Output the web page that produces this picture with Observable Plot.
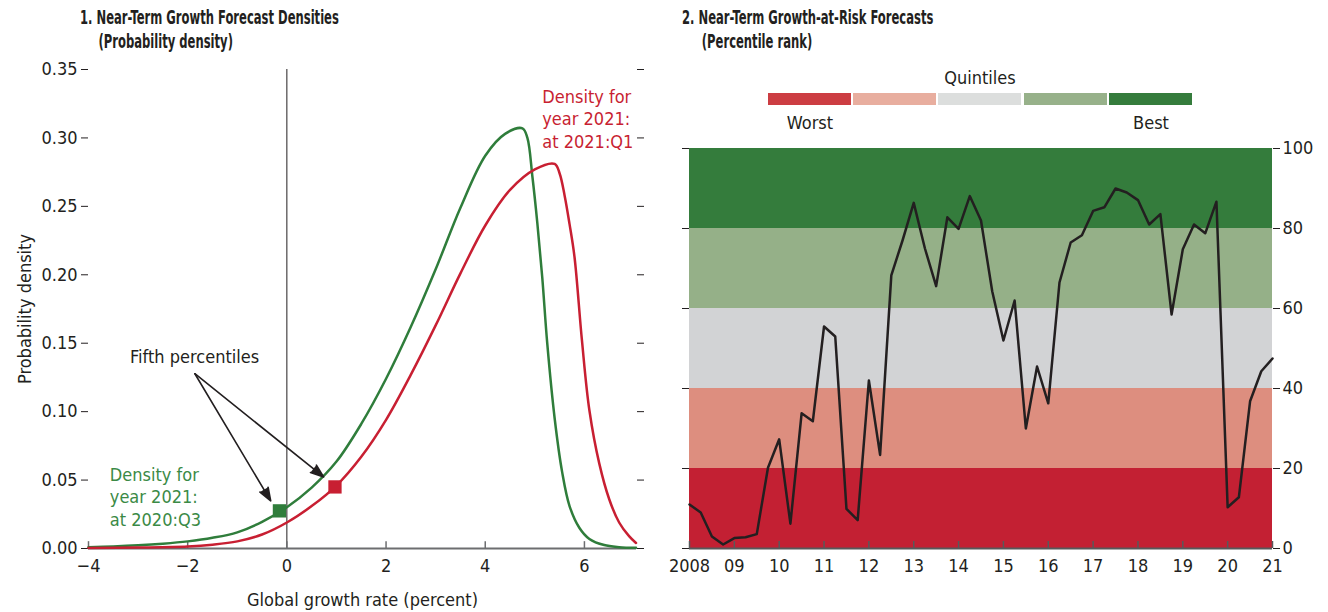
<!DOCTYPE html>
<html>
<head>
<meta charset="utf-8">
<script src="https://cdn.jsdelivr.net/npm/d3@7"></script>
<script src="https://cdn.jsdelivr.net/npm/@observablehq/plot@0.6"></script>
<style>
  body { margin: 0; background: #fff; width: 1328px; height: 612px; position: relative; overflow: hidden;
         font-family: "Liberation Sans Narrow", "DejaVu Sans Condensed", "Arial Narrow", sans-serif; color: #231f20; }
  .abs { position: absolute; white-space: nowrap; }
  .title { font-weight: bold; font-size: 19.5px; line-height: 24px; transform: scaleX(0.66); transform-origin: 0 0; }
  .lg { font-size: 18px; }
  .sw { position: absolute; top: 93px; height: 12px; width: 83px; }
</style>
</head>
<body>
<div class="abs title" style="left:80px; top:6px;">1. Near-Term Growth Forecast Densities<br><span style="padding-left:28px">(Probability density)</span></div>
<div class="abs title" style="left:682px; top:6px;">2. Near-Term Growth-at-Risk Forecasts<br><span style="padding-left:30px">(Percentile rank)</span></div>
<div id="left" class="abs" style="left:0; top:55px;"></div>
<div id="right" class="abs" style="left:660px; top:135px;"></div>
<div id="legend"></div>
<script>
// ---------- Panel 1 data ----------
const greenX = [-4, -3.5, -3, -2.5, -2, -1.5, -1, -0.5, 0, 0.5, 1, 1.5, 2, 2.5, 3, 3.5, 4, 4.4, 4.75, 4.85, 4.95, 5.05, 5.15, 5.25, 5.4, 5.55, 5.7, 5.9, 6.1, 6.4, 6.7, 7.04];
const greenY = [0.001, 0.0015, 0.0023, 0.0035, 0.0052, 0.0078, 0.0118, 0.0195, 0.0302, 0.0445, 0.0635, 0.091, 0.124, 0.162, 0.204, 0.249, 0.287, 0.303, 0.307, 0.300, 0.272, 0.238, 0.198, 0.150, 0.095, 0.056, 0.031, 0.015, 0.007, 0.0025, 0.001, 0.0005];
const redX = [-4, -3, -2, -1.5, -1, -0.5, 0, 0.5, 1, 1.5, 2, 2.5, 3, 3.5, 4, 4.5, 5, 5.4, 5.5, 5.6, 5.7, 5.8, 5.95, 6.1, 6.3, 6.5, 6.7, 6.9, 7.04];
const redY = [0.0003, 0.0007, 0.0015, 0.0028, 0.0052, 0.0102, 0.019, 0.031, 0.046, 0.067, 0.094, 0.127, 0.163, 0.201, 0.236, 0.262, 0.277, 0.281, 0.274, 0.258, 0.237, 0.213, 0.152, 0.101, 0.062, 0.036, 0.019, 0.009, 0.004];
const fifthX = [-0.15, 0.97];
const fifthY = [0.0275, 0.045];
const fifthSeries = ["2020:Q3", "2021:Q1"];
const densityXTicks = [-4, -2, 0, 2, 4, 6];
const densityYTicks = [0, 0.05, 0.10, 0.15, 0.20, 0.25, 0.30, 0.35];
const arrowFrom = [[-1.855, 0.1277], [-1.855, 0.1277]];
const arrowTo = [[-0.326, 0.0348], [0.741, 0.0523]];

// ---------- Panel 2 data ----------
const garRank = [11, 9, 3, 1, 2.6, 2.8, 3.6, 20.2, 27.3, 6.2, 33.8, 31.8, 55.5, 53, 9.9, 7.1, 42, 23.4, 68.3, 77,
  86.4, 75, 65.6, 82.8, 79.9, 88.1, 82, 64.3, 52, 62, 30, 45.5, 36.3, 66.5, 76.5, 78.3, 84.4, 85.3, 90, 89,
  87.1, 81, 83.6, 58.5, 74.8, 81, 78.8, 86.7, 10.3, 12.8, 36.8, 44.3, 47.5];
const startYear = 2008;
const yearTicks = [2008, 2009, 2010, 2011, 2012, 2013, 2014, 2015, 2016, 2017, 2018, 2019, 2020, 2021];
const yearLabels = ["2008", "09", "10", "11", "12", "13", "14", "15", "16", "17", "18", "19", "20", "21"];
const pctTicks = [0, 20, 40, 60, 80, 100];
const quintileLo = [0, 20, 40, 60, 80];
const quintileHi = [20, 40, 60, 80, 100];
const quintileFill = ["#c32033", "#dd8e7f", "#d2d3d5", "#95b088", "#347c3c"];
const legendFill = ["#cc3d42", "#e8ae9f", "#dcdedd", "#97b18a", "#357c3c"];

const GREEN = "#2f7d3b", RED = "#c81f32";
const FONT = '"Liberation Sans Narrow", "DejaVu Sans Condensed", "Arial Narrow", sans-serif';

const greenData = greenX.map((x, i) => ({x, y: greenY[i]}));
const redData = redX.map((x, i) => ({x, y: redY[i]}));
const fifthData = fifthX.map((x, i) => ({x, y: fifthY[i], s: fifthSeries[i]}));
const arrows = arrowFrom.map((f, i) => ({x1: f[0], y1: f[1], x2: arrowTo[i][0], y2: arrowTo[i][1]}));

const left = Plot.plot({
  width: 660, height: 557,
  marginLeft: 88, marginRight: 24, marginTop: 14, marginBottom: 64,
  style: {fontFamily: FONT, fontSize: "18px", color: "#231f20", background: "transparent"},
  x: {domain: [-4, 7.05]},
  y: {domain: [0, 0.35]},
  marks: [
    Plot.ruleX([0], {stroke: "#231f20", strokeWidth: 1}),
    Plot.ruleY([0], {stroke: "#6d6e70", strokeWidth: 2}),
    Plot.ruleX(densityXTicks, {x: d => d, y1: 0, y2: 0.005, stroke: "#6d6e70", strokeWidth: 1.5}),
    Plot.axisY(densityYTicks, {anchor: "left", tickSize: 7, tickPadding: 4, tickFormat: d3.format(".2f"),
      label: "Probability density", labelAnchor: "center", labelOffset: 70, labelArrow: "none"}),
    Plot.axisY(densityYTicks, {anchor: "right", tickSize: 7, tickFormat: () => "", label: null}),
    Plot.axisX(densityXTicks, {anchor: "bottom", tickSize: 0, tickPadding: 11,
      label: "Global growth rate (percent)", labelAnchor: "center", labelOffset: 57, labelArrow: "none"}),
    Plot.line(greenData, {x: "x", y: "y", stroke: GREEN, strokeWidth: 2.5, curve: "catmull-rom"}),
    Plot.line(redData, {x: "x", y: "y", stroke: RED, strokeWidth: 2.5, curve: "catmull-rom"}),
    Plot.arrow(arrows, {x1: "x1", y1: "y1", x2: "x2", y2: "y2", stroke: "#231f20", fill: "#231f20",
      strokeWidth: 1.6, headLength: 13, headAngle: 40}),
    Plot.dot(fifthData, {x: "x", y: "y", symbol: "square", r: 7.5, fill: (d) => d.s === "2020:Q3" ? GREEN : RED, stroke: "none"}),
    Plot.text(["Fifth percentiles"], {x: -1.86, y: 0.1396, text: d => d, fill: "#231f20", fontSize: 18}),
    Plot.text(["Density for\nyear 2021:\nat 2020:Q3"], {x: -3.57, y: 0.0383, text: d => d, textAnchor: "start",
      lineHeight: 1.27, fill: "#3b8a46", fontSize: 18}),
    Plot.text(["Density for\nyear 2021:\nat 2021:Q1"], {x: 5.15, y: 0.3145, text: d => d, textAnchor: "start",
      lineHeight: 1.27, fill: RED, fontSize: 18})
  ]
});
document.getElementById("left").appendChild(left);

const garData = garRank.map((v, i) => ({t: startYear + i / 4, v}));
const bands = quintileLo.map((lo, i) => ({lo, hi: quintileHi[i], fill: quintileFill[i]}));

const right = Plot.plot({
  width: 668, height: 477,
  marginLeft: 29, marginRight: 56, marginTop: 13, marginBottom: 64,
  style: {fontFamily: FONT, fontSize: "18px", color: "#231f20", background: "transparent"},
  x: {domain: [2008, 2021]},
  y: {domain: [0, 100]},
  marks: [
    Plot.rect(bands, {y1: "lo", y2: "hi", fill: "fill"}),
    Plot.ruleY([0], {stroke: "#58595b", strokeWidth: 2}),
    Plot.ruleX(yearTicks, {x: d => d, y1: 0, y2: 1.75, stroke: "#58595b", strokeWidth: 1.5}),
    Plot.axisX(yearTicks, {anchor: "bottom", tickSize: 0, tickPadding: 11,
      tickFormat: d => yearLabels[yearTicks.indexOf(d)], label: null}),
    Plot.axisY(pctTicks, {anchor: "right", tickSize: 7, tickPadding: 3, label: null}),
    Plot.axisY(pctTicks, {anchor: "left", tickSize: 7, tickFormat: () => "", label: null}),
    Plot.line(garData, {x: "t", y: "v", stroke: "#231f20", strokeWidth: 2.5})
  ]
});
document.getElementById("right").appendChild(right);

// legend (HTML, above the chart)
const lg = document.getElementById("legend");
const swLeft = [768, 853, 938, 1024, 1109];
legendFill.forEach((c, i) => {
  const d = document.createElement("div");
  d.className = "sw";
  d.style.left = swLeft[i] + "px";
  d.style.background = c;
  lg.appendChild(d);
});
const lgText = [["Quintiles", 980, 67], ["Worst", 810, 112], ["Best", 1151, 112]];
lgText.forEach(([t, x, y]) => {
  const d = document.createElement("div");
  d.className = "abs lg";
  d.textContent = t;
  d.style.left = x + "px";
  d.style.top = y + "px";
  d.style.transform = "translateX(-50%)";
  lg.appendChild(d);
});
</script>
</body>
</html>
